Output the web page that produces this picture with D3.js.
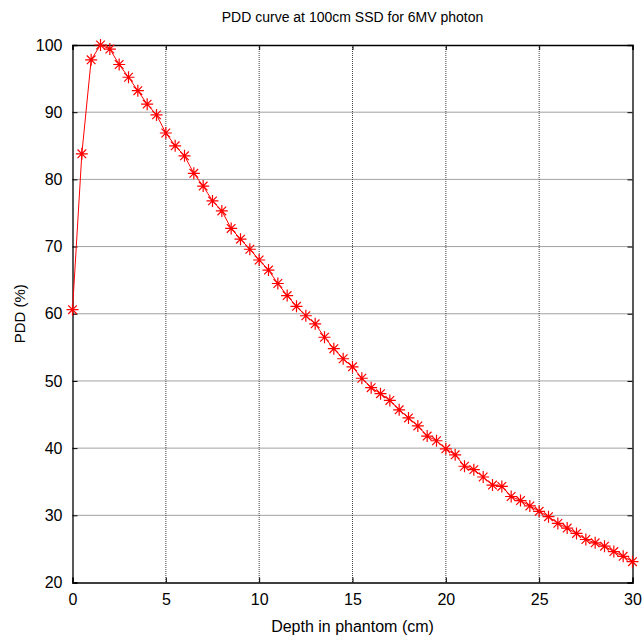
<!DOCTYPE html>
<html>
<head>
<meta charset="utf-8">
<script src="https://cdn.jsdelivr.net/npm/d3@7"></script>
<style>
  body { margin: 0; background: #fff; }
  text { font-family: "Liberation Sans", Arial, sans-serif; fill: #000; }
</style>
</head>
<body>
<div id="chart"></div>
<script>
// depth (cm) and PDD (%)
const depths = [0, 0.5, 1, 1.5, 2, 2.5, 3, 3.5, 4, 4.5, 5, 5.5, 6, 6.5, 7, 7.5, 8, 8.5, 9, 9.5,
  10, 10.5, 11, 11.5, 12, 12.5, 13, 13.5, 14, 14.5, 15, 15.5, 16, 16.5, 17, 17.5, 18, 18.5, 19, 19.5,
  20, 20.5, 21, 21.5, 22, 22.5, 23, 23.5, 24, 24.5, 25, 25.5, 26, 26.5, 27, 27.5, 28, 28.5, 29, 29.5, 30];
const pdd = [60.6, 83.8, 97.8, 100, 99.4, 97.1, 95.2, 93.2, 91.2, 89.6, 86.9, 85.0, 83.5, 80.9, 79.0,
  76.8, 75.3, 72.7, 71.1, 69.6, 68.0, 66.5, 64.5, 62.7, 61.1, 59.7, 58.5, 56.5, 54.8, 53.3,
  52.1, 50.4, 49.0, 48.1, 47.1, 45.7, 44.5, 43.3, 41.8, 41.1, 39.9, 39.0, 37.3, 36.8, 35.7,
  34.5, 34.3, 32.8, 32.2, 31.4, 30.6, 29.8, 28.8, 28.1, 27.3, 26.4, 25.9, 25.4, 24.6, 23.9, 23.1];
const xTicks = [0, 5, 10, 15, 20, 25, 30];
const yTicks = [20, 30, 40, 50, 60, 70, 80, 90, 100];

const W = 644, H = 638;
const margin = {top: 45, right: 11.5, bottom: 55.5, left: 72.5};
const width = W - margin.left - margin.right;
const height = H - margin.top - margin.bottom;

const svg = d3.select('#chart').append('svg')
  .attr('width', W).attr('height', H);

const g = svg.append('g')
  .attr('transform', `translate(${margin.left},${margin.top})`);

const x = d3.scaleLinear().domain([0, 30]).range([0, width]);
const y = d3.scaleLinear().domain([20, 100]).range([height, 0]);

// grid (dotted, like matlab)
g.append('g').selectAll('line')
  .data(xTicks.slice(1, -1))
  .enter().append('line')
    .attr('x1', d => x(d)).attr('x2', d => x(d))
    .attr('y1', 0).attr('y2', height)
    .attr('stroke', '#444').attr('stroke-width', 1)
    .attr('stroke-dasharray', '1,1');
g.append('g').selectAll('line')
  .data(yTicks.slice(1, -1))
  .enter().append('line')
    .attr('x1', 0).attr('x2', width)
    .attr('y1', d => y(d)).attr('y2', d => y(d))
    .attr('stroke', '#444').attr('stroke-width', 1)
    .attr('stroke-dasharray', '1,1');

// axes with inward ticks, mirrored on top and right
const tk = 5;
const fmt = d => d;
const xAxis = g.append('g')
  .attr('transform', `translate(0,${height})`)
  .call(d3.axisBottom(x).tickValues(xTicks).tickSize(-tk).tickPadding(tk + 6).tickFormat(fmt));
const yAxis = g.append('g')
  .call(d3.axisLeft(y).tickValues(yTicks).tickSize(-tk).tickPadding(tk + 5).tickFormat(fmt));
g.append('g')
  .call(d3.axisTop(x).tickValues(xTicks).tickSize(-tk).tickFormat(''));
g.append('g')
  .attr('transform', `translate(${width},0)`)
  .call(d3.axisRight(y).tickValues(yTicks).tickSize(-tk).tickFormat(''));

g.selectAll('.domain').attr('stroke', '#000').attr('stroke-width', 1.3);
g.selectAll('.tick line').attr('stroke', '#000');
xAxis.selectAll('text').style('font-size', '16px');
yAxis.selectAll('text').style('font-size', '16px');

// curve
const line = d3.line()
  .x((d, i) => x(depths[i]))
  .y(d => y(d));
g.append('path')
  .datum(pdd)
  .attr('d', line)
  .attr('fill', 'none')
  .attr('stroke', '#ff0000')
  .attr('stroke-width', 1);

// asterisk markers
const r = 6, rd = r * 0.72;
const marks = g.append('g').selectAll('g')
  .data(pdd)
  .enter().append('g')
    .attr('transform', (d, i) => `translate(${x(depths[i])},${y(d)})`);
marks.append('path')
  .attr('d', `M${-r},0H${r}M0,${-r}V${r}M${-rd},${-rd}L${rd},${rd}M${-rd},${rd}L${rd},${-rd}`)
  .attr('stroke', '#ff0000')
  .attr('stroke-width', 1.2)
  .attr('fill', 'none');

// labels
svg.append('text')
  .attr('x', margin.left + width / 2).attr('y', 22)
  .attr('text-anchor', 'middle')
  .style('font-size', '14px')
  .text('PDD curve at 100cm SSD for 6MV photon');
svg.append('text')
  .attr('x', margin.left + width / 2).attr('y', 632)
  .attr('text-anchor', 'middle')
  .style('font-size', '16px')
  .text('Depth in phantom (cm)');
svg.append('text')
  .attr('transform', `translate(25,${margin.top + height / 2}) rotate(-90)`)
  .attr('text-anchor', 'middle')
  .style('font-size', '15px')
  .text('PDD (%)');
</script>
</body>
</html>
